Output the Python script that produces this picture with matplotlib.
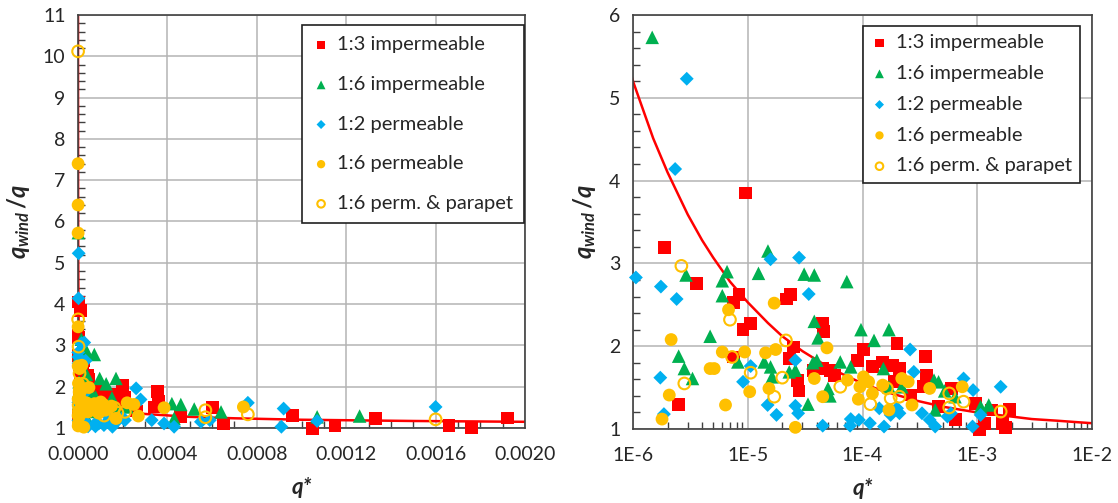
import matplotlib
matplotlib.use("Agg")
import matplotlib.pyplot as plt
from matplotlib.ticker import MultipleLocator, LogLocator, NullFormatter
import numpy as np

plt.rcParams['font.family'] = ['Lato', 'DejaVu Sans']
plt.rcParams['mathtext.fontset'] = 'custom'
plt.rcParams['mathtext.it'] = 'Lato:italic:bold'
plt.rcParams['mathtext.rm'] = 'Lato:bold'

# --- data (q*, q_wind/q) ---
imp13_x = [6e-7, 4e-7, 1.87e-6, 2.5e-6, 3.6e-6, 7.5e-6, 8.4e-6, 9.5e-6, 9.1e-6, 1.05e-5, 7.5e-6,
           2.17e-5, 2.37e-5, 2.5e-5, 2.3e-5, 2.7e-5, 2.8e-5, 4.5e-5, 4.6e-5, 3.7e-5, 4.5e-5,
           5.3e-5, 5.7e-5, 9.1e-5, 1.02e-4, 1.23e-4, 1.49e-4, 1.82e-4, 2.0e-4, 2.1e-4, 1.9e-4,
           2.6e-4, 3.55e-4, 3.6e-4, 3.4e-4, 4.6e-4, 6.0e-4, 6.5e-4, 9.6e-4, 1.05e-3, 1.15e-3,
           1.33e-3, 1.66e-3, 1.76e-3, 1.92e-3]
imp13_y = [4.05, 3.25, 3.19, 1.30, 2.76, 2.53, 2.62, 3.85, 2.20, 2.27, 1.87,
           2.57, 2.62, 1.99, 1.85, 1.59, 1.46, 2.28, 2.18, 1.71, 1.73,
           1.71, 1.65, 1.83, 1.96, 1.75, 1.81, 1.77, 2.03, 1.73, 1.57,
           1.41, 1.88, 1.65, 1.51, 1.27, 1.49, 1.11, 1.31, 0.99, 1.07,
           1.23, 1.07, 1.02, 1.24]

imp16_x = [1.47e-6, 2.9e-6, 2.5e-6, 2.8e-6, 3.3e-6, 4.7e-6, 6.0e-6, 6.6e-6, 6.0e-6, 8.2e-6,
           1.24e-5, 1.5e-5, 1.39e-5, 1.58e-5, 1.63e-5, 2.3e-5, 2.6e-5, 3.1e-5, 3.8e-5, 3.35e-5,
           3.8e-5, 4.1e-5, 4.0e-5, 3.7e-5, 5.0e-5, 5.2e-5, 6.4e-5, 7.3e-5, 7.9e-5, 9.7e-5,
           1.26e-4, 1.7e-4, 1.52e-4, 1.7e-4, 2.2e-4, 4.2e-4, 4.6e-4, 4.3e-4, 5.2e-4, 6.4e-4,
           1.07e-3, 1.26e-3]
imp16_y = [5.73, 2.86, 1.88, 1.73, 1.61, 2.12, 2.79, 2.90, 2.61, 1.81,
           2.88, 3.15, 1.81, 1.75, 1.63, 1.69, 1.71, 2.87, 2.86, 1.30,
           2.30, 2.10, 1.83, 1.80, 1.49, 1.40, 1.81, 2.78, 1.75, 2.20,
           2.07, 2.20, 1.73, 1.51, 1.51, 1.59, 1.57, 1.23, 1.46, 1.39,
           1.27, 1.29]

perm12_x = [1.06e-6, 1.75e-6, 1.73e-6, 1.86e-6, 2.4e-6, 2.33e-6, 2.94e-6, 9.1e-6, 1.06e-5,
            1.49e-5, 1.58e-5, 1.78e-5, 2.6e-5, 2.6e-5, 2.75e-5, 2.8e-5, 3.4e-5, 4.5e-5,
            7.9e-5, 9.3e-5, 7.8e-5, 1.16e-4, 1.54e-4, 1.4e-4, 1.76e-4, 2.0e-4, 2.1e-4,
            2.6e-4, 2.8e-4, 3.3e-4, 3.85e-4, 4.3e-4, 5.5e-4, 5.9e-4, 7.6e-4, 9.1e-4,
            9.2e-4, 1.07e-3, 1.6e-3]
perm12_y = [2.83, 2.72, 1.62, 1.18, 2.57, 4.14, 5.23, 1.57, 1.76,
            1.29, 3.05, 1.17, 1.83, 1.28, 1.19, 3.07, 2.63, 1.04,
            1.12, 1.11, 1.04, 1.07, 1.03, 1.25, 1.17, 1.25, 1.19,
            1.96, 1.69, 1.19, 1.11, 1.03, 1.15, 1.19, 1.61, 1.03,
            1.47, 1.17, 1.51]

perm16_x = [5e-7, 5e-7, 5e-7, 6e-7, 7e-7, 8e-7, 5e-7, 9e-7,
            1.79e-6, 2.07e-6, 2.15e-6, 4.7e-6, 5.1e-6, 6.0e-6, 6.4e-6, 6.8e-6, 9.4e-6,
            1.04e-5, 1.43e-5, 1.53e-5, 1.7e-5, 1.75e-5, 2.6e-5, 3.8e-5, 4.5e-5, 4.9e-5,
            7.4e-5, 9.2e-5, 9.5e-5, 1.02e-4, 1.13e-4, 1.22e-4, 1.5e-4, 1.7e-4, 2.2e-4,
            2.5e-4, 2.7e-4, 3.85e-4, 7.4e-4]
perm16_y = [7.40, 6.40, 5.72, 3.45, 2.50, 1.70, 1.30, 1.05,
            1.12, 1.41, 2.08, 1.73, 1.73, 1.93, 1.29, 2.44, 1.93,
            1.45, 1.92, 1.49, 2.52, 1.96, 1.02, 1.61, 1.39, 1.98,
            1.59, 1.36, 1.51, 1.63, 1.57, 1.43, 1.53, 1.23, 1.61,
            1.57, 1.29, 1.49, 1.51]

parapet_x = [4e-7, 6e-7, 2.64e-6, 2.8e-6, 7.0e-6, 7.3e-6, 1.06e-5, 1.7e-5, 2.0e-5, 2.15e-5,
             6.4e-5, 1.17e-4, 1.63e-4, 1.76e-4, 2.1e-4, 5.7e-4, 5.7e-4, 7.6e-4, 1.6e-3]
parapet_y = [10.12, 3.63, 2.97, 1.55, 2.32, 1.87, 1.68, 1.39, 1.62, 2.07,
             1.51, 1.30, 1.49, 1.37, 1.39, 1.43, 1.26, 1.33, 1.21]

# fitted curve
fit_x = [1e-7, 2e-7, 5e-7, 1e-6, 1.5e-6, 2e-6, 3e-6, 4e-6, 5e-6, 7e-6, 1e-5, 1.5e-5, 2e-5,
         3e-5, 5e-5, 7e-5, 1e-4, 1.5e-4, 2e-4, 3e-4, 5e-4, 7e-4, 1e-3, 1.5e-3, 2e-3, 3e-3,
         5e-3, 7e-3, 1e-2]
fit_y = [12.57, 9.53, 6.70, 5.20, 4.51, 4.10, 3.59, 3.28, 3.07, 2.78, 2.53, 2.28, 2.12,
         1.94, 1.75, 1.65, 1.55, 1.46, 1.41, 1.34, 1.27, 1.235, 1.20, 1.17, 1.15, 1.12,
         1.10, 1.085, 1.07]

left_ticks = [0, 0.0004, 0.0008, 0.0012, 0.0016, 0.002]
left_labels = ['0.0000', '0.0004', '0.0008', '0.0012', '0.0016', '0.0020']
right_ticks = [1e-6, 1e-5, 1e-4, 1e-3, 1e-2]
right_labels = ['1E-6', '1E-5', '1E-4', '1E-3', '1E-2']

series = [
    (imp13_x, imp13_y, '1:3 impermeable', dict(marker='s', s=85, c='#FF0000', edgecolors='none')),
    (imp16_x, imp16_y, '1:6 impermeable', dict(marker='^', s=95, c='#00B050', edgecolors='none')),
    (perm12_x, perm12_y, '1:2 permeable', dict(marker='D', s=50, c='#00B0F0', edgecolors='none')),
    (perm16_x, perm16_y, '1:6 permeable', dict(marker='o', s=85, c='#FFC000', edgecolors='none')),
    (parapet_x, parapet_y, '1:6 perm. & parapet',
     dict(marker='o', s=70, facecolors='none', edgecolors='#FFC000', linewidths=1.5)),
]

W, H = 1118, 503
fig = plt.figure(figsize=(W / 100, H / 100), dpi=100)
axL = fig.add_axes([78 / W, (H - 428) / H, 447 / W, 413 / H])
axR = fig.add_axes([633 / W, (H - 429) / H, 459 / W, 414 / H])
axR.set_xscale('log')

txt = '#262626'
limits = {axL: ((0, 0.002), (1, 11)), axR: ((1e-6, 1e-2), (1, 6))}
for ax in (axL, axR):
    (x0, x1), (y0, y1) = limits[ax]
    ax.set_axisbelow(True)
    ax.grid(True, which='major', color='#B4B4B4', lw=1.1)
    for sp in ax.spines.values():
        sp.set_color('#404040')
        sp.set_linewidth(1.2)
    ax.plot(fit_x, fit_y, color='#FF0000', lw=1.8, zorder=2)
    for x, y, lab, kw in series:
        x = np.array(x)
        y = np.array(y)
        keep = (x >= x0) & (y <= y1)  # only what falls inside this panel's range
        ax.scatter(x[keep], y[keep], label=lab, zorder=3, clip_on=False, **kw)
    ax.tick_params(which='both', direction='in', colors='#404040', labelcolor=txt,
                   labelsize=14, top=False, right=False)
    ax.tick_params(which='major', length=0)
    ax.tick_params(axis='x', which='major', pad=13)
    ax.tick_params(axis='y', which='major', pad=9)
    ax.tick_params(which='minor', length=5, width=1)
    ax.set_xlabel('q*', fontsize=16, fontweight='bold', fontstyle='italic', color=txt, labelpad=10)
    ax.set_ylabel(r'$q_{wind}\,/q$', fontsize=17, color=txt, labelpad=8)
    ax.yaxis.set_major_locator(MultipleLocator(1))
    ax.yaxis.set_minor_locator(MultipleLocator(0.2))

# left: linear axis
axL.set_xticks(left_ticks)
axL.set_xticklabels(left_labels)
axL.xaxis.set_minor_locator(MultipleLocator(0.0001))
axL.set_xlim(0, 0.002)
axL.set_ylim(1, 11)

# right: log axis
axR.set_xticks(right_ticks)
axR.set_xticklabels(right_labels)
axR.xaxis.set_minor_locator(LogLocator(base=10, subs=np.arange(2, 10)))
axR.xaxis.set_minor_formatter(NullFormatter())
axR.set_xlim(1e-6, 1e-2)
axR.set_ylim(1, 6)

legL = axL.legend(loc='upper left', bbox_to_anchor=(0.501, 0.975), fontsize=14.5, frameon=True,
                  fancybox=False, framealpha=1, edgecolor='#202020', markerscale=0.65,
                  scatterpoints=1, handlelength=0.8, handletextpad=0.4, labelspacing=1.12,
                  borderpad=0.55, borderaxespad=0)
legR = axR.legend(loc='upper left', bbox_to_anchor=(0.501, 0.974), fontsize=14.5, frameon=True,
                  fancybox=False, framealpha=1, edgecolor='#202020', markerscale=0.65,
                  scatterpoints=1, handlelength=0.8, handletextpad=0.4, labelspacing=0.68,
                  borderpad=0.42, borderaxespad=0)
for lg in (legL, legR):
    lg.get_frame().set_linewidth(1.2)
    for t in lg.get_texts():
        t.set_color(txt)
    lg.set_zorder(5)

fig.savefig('out.png', dpi=100)
